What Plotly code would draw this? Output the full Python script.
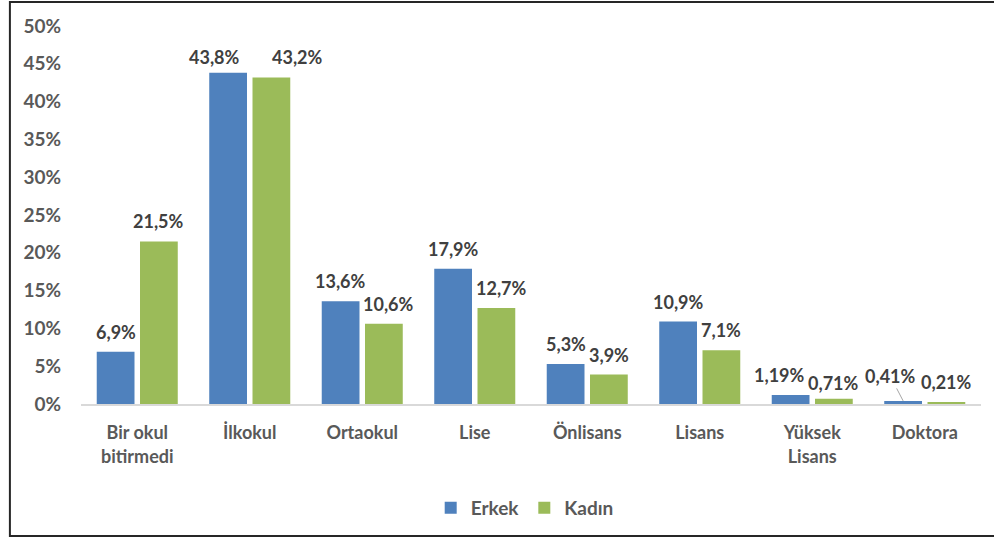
import plotly.graph_objects as go

categories = ["Bir okul<br>bitirmedi", "İlkokul", "Ortaokul", "Lise", "Önlisans", "Lisans", "Yüksek<br>Lisans", "Doktora"]
erkek = [6.9, 43.8, 13.6, 17.9, 5.3, 10.9, 1.19, 0.41]
kadin = [21.5, 43.2, 10.6, 12.7, 3.9, 7.1, 0.71, 0.21]
erkek_labels = ["6,9%", "43,8%", "13,6%", "17,9%", "5,3%", "10,9%", "1,19%", "0,41%"]
kadin_labels = ["21,5%", "43,2%", "10,6%", "12,7%", "3,9%", "7,1%", "0,71%", "0,21%"]
y_ticks = [0, 5, 10, 15, 20, 25, 30, 35, 40, 45, 50]

# label placement tweaks (pixels), style only
erkek_dx = [0, -14, 0, 0, 0, 0, -11, 0]
erkek_dy = [20, 16, 20, 20, 20, 20, 20, 0]
kadin_dx = [0, 26, 5, 5, 0, 0, 0, 0]
kadin_dy = [20, 20, 20, 20, 20, 20, 16, 20]

BLUE = "#4F81BD"
GREEN = "#9BBB59"
FONT = "Lato"
GROUP_OFF = 21.6

fig = go.Figure()
fig.add_trace(go.Bar(x=categories, y=erkek, name="<b>Erkek</b>", marker=dict(color=BLUE, line=dict(width=0))))
fig.add_trace(go.Bar(x=categories, y=kadin, name="<b>Kadın</b>", marker=dict(color=GREEN, line=dict(width=0))))

annotations = []
for i, c in enumerate(categories):
    for vals, labs, base, dxs, dys in ((erkek, erkek_labels, -GROUP_OFF, erkek_dx, erkek_dy),
                                       (kadin, kadin_labels, GROUP_OFF, kadin_dx, kadin_dy)):
        v = vals[i]
        lab = labs[i]
        font = dict(family=FONT, size=18, color="#404040")
        if c == "Doktora" and lab == "0,41%":
            annotations.append(dict(x=c, y=v, xref="x", yref="y", text="<b>" + lab + "</b>",
                                    showarrow=True, arrowhead=0, arrowwidth=1, arrowcolor="#A6A6A6",
                                    ax=-13, ay=-25, xshift=base, yshift=0,
                                    font=font, standoff=0, startstandoff=0))
        else:
            annotations.append(dict(x=c, y=v, xref="x", yref="y", text="<b>" + lab + "</b>",
                                    showarrow=False, xshift=base + dxs[i], yshift=dys[i],
                                    yanchor="middle", font=font))

fig.update_layout(
    width=994, height=539,
    margin=dict(l=81, r=13, t=26, b=135),
    paper_bgcolor="white", plot_bgcolor="white",
    barmode="group", bargap=0.231, bargroupgap=0.127,
    font=dict(family=FONT, color="#595959"),
    showlegend=True,
    legend=dict(orientation="h", x=0.493, xanchor="center", y=-0.275, yanchor="middle",
                font=dict(family=FONT, size=19, color="#595959"), itemwidth=30,
                traceorder="normal"),
    annotations=annotations,
    shapes=[dict(type="rect", xref="paper", yref="paper", x0=-0.079, x1=1.05, y0=-0.349, y1=1.0635,
                 line=dict(color="#262626", width=2), fillcolor="rgba(0,0,0,0)")],
)
fig.update_xaxes(showgrid=False, showline=True, linecolor="#D9D9D9", linewidth=1.5,
                 ticks="", tickfont=dict(family=FONT, size=18, color="#595959"),
                 ticklabelstandoff=12,
                 tickvals=categories, ticktext=[f"<b>{c}</b>" for c in categories])
fig.update_yaxes(range=[0, 50], tickvals=y_ticks, ticktext=[f"<b>{t}%</b>" for t in y_ticks],
                 showgrid=False, showline=False, zeroline=False, ticks="",
                 tickfont=dict(family=FONT, size=19, color="#595959"), ticklabelstandoff=19)

fig.write_html("out.html", config={"displayModeBar": False},
               post_script="document.body.style.margin='0';document.body.style.overflow='hidden';")
